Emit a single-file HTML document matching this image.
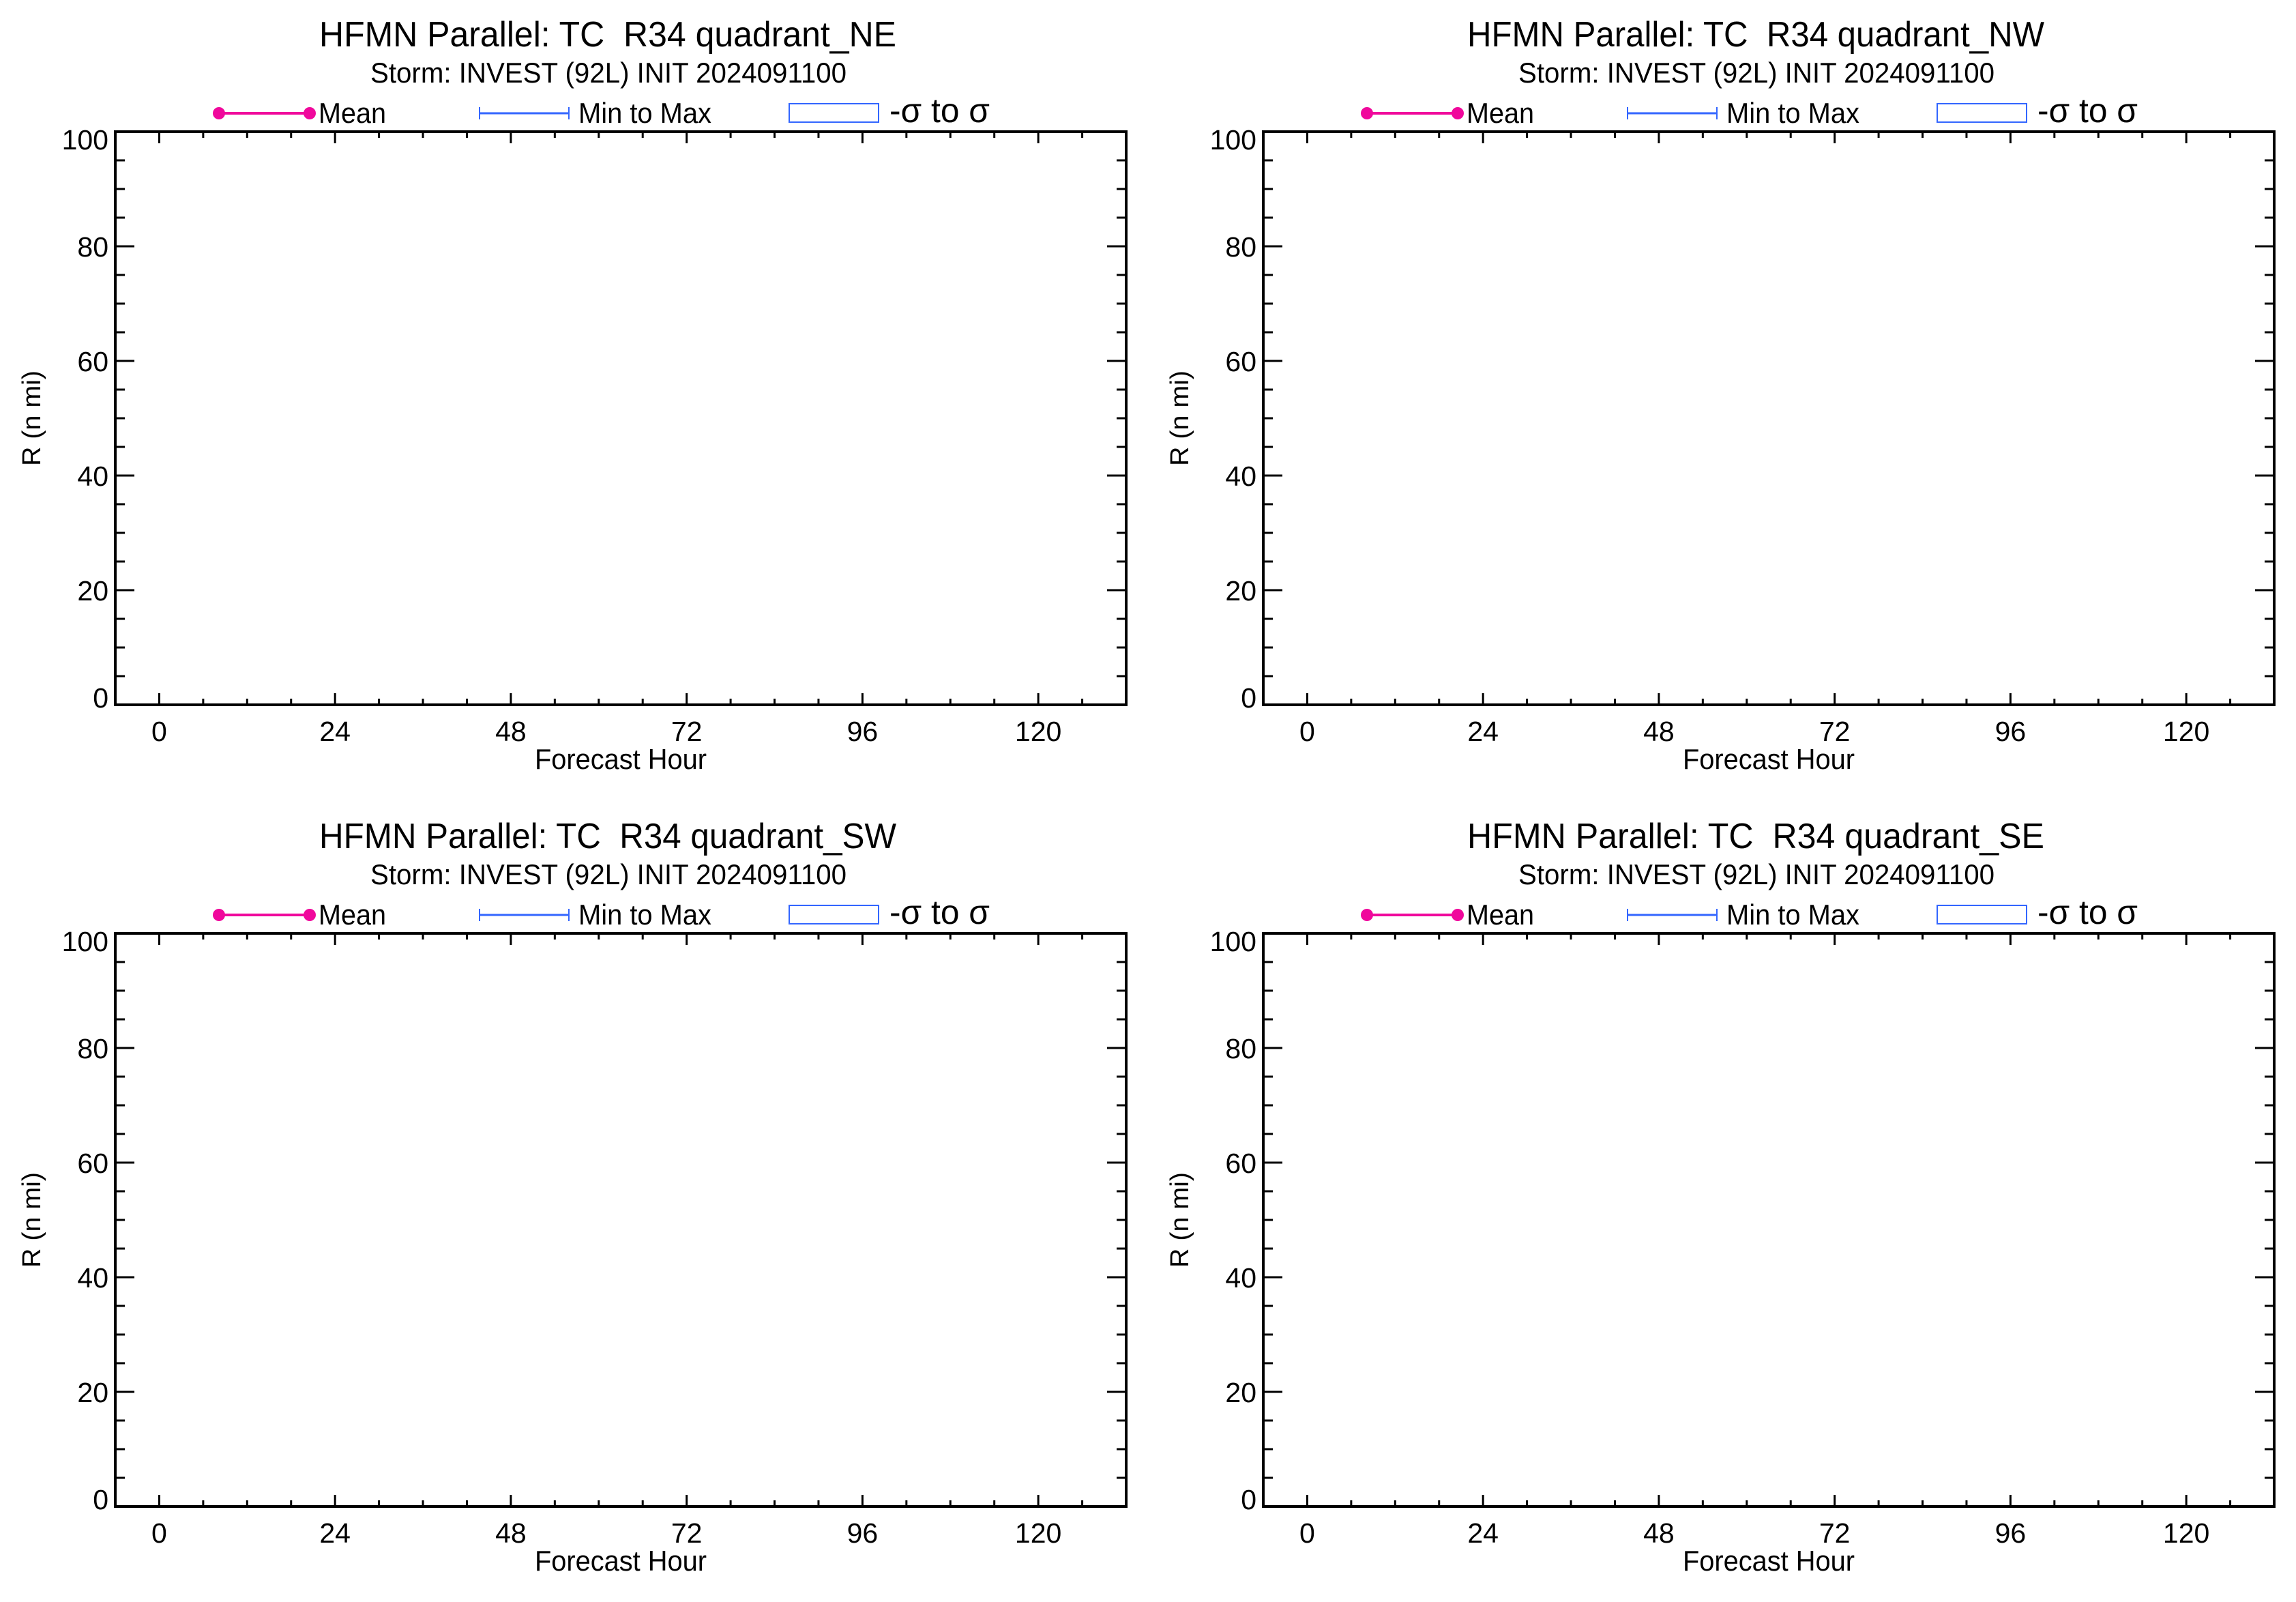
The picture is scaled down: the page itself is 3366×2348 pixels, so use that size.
<!DOCTYPE html>
<html><head><meta charset="utf-8"><style>
html,body{margin:0;padding:0;background:#fff;}
svg{display:block;}
text{font-family:"Liberation Sans",sans-serif;fill:#000;white-space:pre;}
</style></head><body>
<svg id="chart" xmlns="http://www.w3.org/2000/svg" xml:space="preserve" width="3366" height="2348" viewBox="0 0 3366 2348">
<rect x="0" y="0" width="3366" height="2348" fill="#fff"/>
</svg>
<script>
const quadrants = ["NE", "NW", "SW", "SE"];
const xTickLabels = [0, 24, 48, 72, 96, 120];
const yTickLabels = [0, 20, 40, 60, 80, 100];
const xMinorStep = 6;
const yMinorStep = 5;
const xDomain = [-6, 132];
const yDomain = [0, 100];
const meanValues = [];
const minValues = [];
const maxValues = [];

const NS = "http://www.w3.org/2000/svg";
const svg = document.getElementById("chart");
function mk(tag, attrs, parent) {
  const e = document.createElementNS(NS, tag);
  for (const k in attrs) e.setAttribute(k, attrs[k]);
  (parent || svg).appendChild(e);
  return e;
}
const offsets = [[0,0],[1683,0],[0,1175],[1683,1175]];

quadrants.forEach((q, i) => {
  const ox = offsets[i][0], oy = offsets[i][1];
  const g = mk("g", {});
  
  
  const L = 169 + ox, R = 1651 + ox, T = 193 + oy, B = 1033 + oy;
  const xs = v => L + (v - xDomain[0]) / (xDomain[1] - xDomain[0]) * (R - L);
  const ys = v => B - (v - yDomain[0]) / (yDomain[1] - yDomain[0]) * (B - T);

  const t = mk("text", {x: 891 + ox, y: 68 + oy, "text-anchor": "middle", "font-size": 52, textLength: 846, lengthAdjust: "spacingAndGlyphs"}, g);
  t.textContent = "HFMN Parallel: TC  R34 quadrant_" + q;
  
  
  const st = mk("text", {x: 892 + ox, y: 121 + oy, "text-anchor": "middle", "font-size": 42, textLength: 698, lengthAdjust: "spacingAndGlyphs"}, g);
  st.textContent = "Storm: INVEST (92L) INIT 2024091100";
  
  

  const lg = mk("g", {}, g);
  
  
  const ly = 166 + oy;
  mk("line", {x1: 321 + ox, y1: ly, x2: 454 + ox, y2: ly, stroke: "#f0089c", "stroke-width": 4}, lg);
  mk("circle", {cx: 321 + ox, cy: ly, r: 9, fill: "#f0089c"}, lg);
  mk("circle", {cx: 454 + ox, cy: ly, r: 9, fill: "#f0089c"}, lg);
  const m = mk("text", {x: 467 + ox, y: 180 + oy, "font-size": 42, textLength: 99, lengthAdjust: "spacingAndGlyphs"}, lg);
  m.textContent = "Mean";
  
  
  mk("line", {x1: 703 + ox, y1: ly, x2: 834 + ox, y2: ly, stroke: "#3366ff", "stroke-width": 3}, lg);
  mk("line", {x1: 703 + ox, y1: ly - 9, x2: 703 + ox, y2: ly + 9, stroke: "#3366ff", "stroke-width": 2}, lg);
  mk("line", {x1: 834 + ox, y1: ly - 9, x2: 834 + ox, y2: ly + 9, stroke: "#3366ff", "stroke-width": 2}, lg);
  const mm = mk("text", {x: 848 + ox, y: 180 + oy, "font-size": 42, textLength: 195, lengthAdjust: "spacingAndGlyphs"}, lg);
  mm.textContent = "Min to Max";
  
  
  mk("rect", {x: 1157 + ox, y: 152 + oy, width: 131, height: 27, fill: "none", stroke: "#3366ff", "stroke-width": 2}, lg);
  const sg = mk("text", {x: 1304 + ox, y: 179 + oy, "font-size": 50, textLength: 147, lengthAdjust: "spacingAndGlyphs"}, lg);
  sg.textContent = "-σ to σ";
  
  

  for (let h = 0; h <= 126; h += xMinorStep) {
    const x = xs(h), maj = h % 24 === 0, len = maj ? 17 : 9;
    mk("line", {x1: x, y1: B, x2: x, y2: B - len, stroke: "#000", "stroke-width": 3}, g);
    mk("line", {x1: x, y1: T, x2: x, y2: T + len, stroke: "#000", "stroke-width": 3}, g);
  }
  for (let v = yDomain[0]; v <= yDomain[1]; v += yMinorStep) {
    const y = ys(v), maj = v % 20 === 0, len = maj ? 28 : 14;
    mk("line", {x1: L, y1: y, x2: L + len, y2: y, stroke: "#000", "stroke-width": 3}, g);
    mk("line", {x1: R, y1: y, x2: R - len, y2: y, stroke: "#000", "stroke-width": 3}, g);
  }
  xTickLabels.forEach(v => {
    const tx = mk("text", {x: xs(v), y: 1086 + oy, "text-anchor": "middle", "font-size": 41}, g);
    tx.textContent = v;
    
    
  });
  yTickLabels.forEach(v => {
    let cy = ys(v);
    if (v === yDomain[1]) cy += 11;
    if (v === yDomain[0]) cy -= 11;
    const ty = mk("text", {x: 159 + ox, y: cy + 15, "text-anchor": "end", "font-size": 41}, g);
    ty.textContent = v;
    
    
  });
  mk("rect", {x: L, y: T, width: R - L, height: B - T, fill: "none", stroke: "#000", "stroke-width": 4}, g);

  const xt = mk("text", {x: 910 + ox, y: 1127 + oy, "text-anchor": "middle", "font-size": 42, textLength: 252, lengthAdjust: "spacingAndGlyphs"}, g);
  xt.textContent = "Forecast Hour";
  
  
  const yt = mk("text", {x: 0, y: 0, "text-anchor": "middle", "font-size": 38, textLength: 140, lengthAdjust: "spacingAndGlyphs", transform: "translate(" + (59 + ox) + "," + (613 + oy) + ") rotate(-90)"}, g);
  yt.textContent = "R (n mi)";
  
  

  meanValues.forEach((v, k) => {
    const c = mk("circle", {cx: xs(k * 6), cy: ys(v), r: 9, fill: "#f0089c"}, g);
    
    
  });
  minValues.forEach((v, k) => {
    const ln = mk("line", {x1: xs(k * 6), y1: ys(v), x2: xs(k * 6), y2: ys(maxValues[k]), stroke: "#3366ff", "stroke-width": 3}, g);
    
    
  });
});
</script>
</body></html>
